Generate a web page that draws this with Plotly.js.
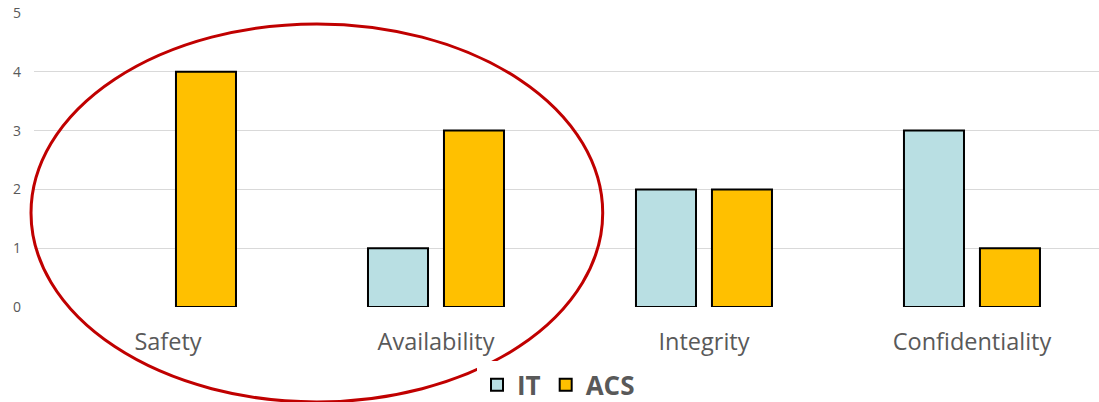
<!DOCTYPE html>
<html>
<head>
<meta charset="utf-8">
<script src="https://cdn.plot.ly/plotly-3.0.1.min.js"></script>
<style>html,body{margin:0;padding:0;background:#fff;}#chart{width:1099px;height:402px;}</style>
</head>
<body>
<div id="chart"></div>
<script>
const categories = ["Safety", "Availability", "Integrity", "Confidentiality"];
const itValues = [0, 1, 2, 3];
const acsValues = [4, 3, 2, 1];
const seriesNames = ["IT", "ACS"];
const yTicks = [0, 1, 2, 3, 4, 5];

// zero-height bars get no visible outline (they are "unselected" and fully transparent)
const nonZero = vals => vals.map((v, i) => (v === 0 ? -1 : i)).filter(i => i >= 0);

const data = [
  {type: "bar", name: seriesNames[0], x: categories, y: itValues,
   selectedpoints: nonZero(itValues), unselected: {marker: {opacity: 0}}, selected: {marker: {opacity: 1}},
   marker: {color: "#b9dfe3", line: {color: "#000", width: 2}}},
  {type: "bar", name: seriesNames[1], x: categories, y: acsValues,
   selectedpoints: nonZero(acsValues), unselected: {marker: {opacity: 0}}, selected: {marker: {opacity: 1}},
   marker: {color: "#ffc000", line: {color: "#000", width: 2}}}
];

const layout = {
  width: 1099, height: 402,
  margin: {l: 34, r: 0, t: 13, b: 95, autoexpand: false},
  paper_bgcolor: "#fff", plot_bgcolor: "#fff",
  font: {family: "Open Sans, sans-serif", color: "#595959"},
  barmode: "group",
  bargap: 0.433,
  bargroupgap: 0.21,
  showlegend: true,
  legend: {orientation: "h", x: 0.4925, xanchor: "center", y: -0.265, yanchor: "middle",
           font: {size: 26, color: "#595959", weight: "bold"}, tracegroupgap: 0},
  xaxis: {type: "category", range: [-0.5, 3.474], showgrid: false, zeroline: false,
          showline: false, ticks: "", ticklabelstandoff: 18,
          tickfont: {size: 23.5, color: "#595959"}},
  yaxis: {range: [0, 5], tickvals: yTicks, showgrid: true, gridcolor: "#d9d9d9", gridwidth: 1,
          zeroline: false, showline: false, ticks: "", ticklabelstandoff: 12,
          tickfont: {size: 14, color: "#595959"}},
  shapes: [
    {type: "circle", xref: "paper", yref: "paper",
     x0: -0.0028, x1: 0.534, y0: -0.323, y1: 0.963,
     line: {color: "#c00000", width: 3}, fillcolor: "rgba(0,0,0,0)", layer: "above"}
  ]
};

Plotly.newPlot("chart", data, layout, {displayModeBar: false, staticPlot: true});
</script>
</body>
</html>
